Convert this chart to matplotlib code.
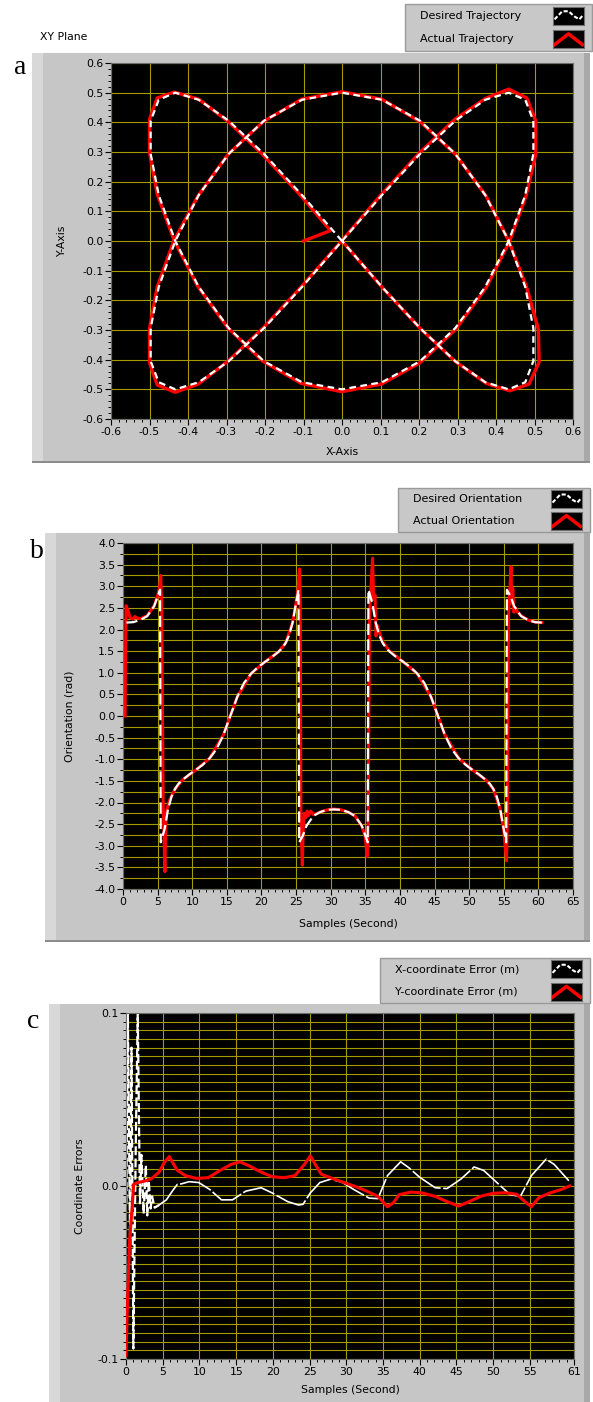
"""Three LabVIEW-style panels: XY trajectory, orientation and coordinate errors."""
import matplotlib.pyplot as plt
from matplotlib.patches import Rectangle
from matplotlib.ticker import FixedLocator, MultipleLocator, FormatStrFormatter

W, H = 593, 1402
PANEL = "#c6c6c6"
GRID = "#a39b00"
RED = "#ff0000"

# (a) XY plane, one sample per second
traj_des_x = [0.000, -0.104, -0.203, -0.294, -0.372, -0.433, -0.476, -0.497, -0.497, -0.476,
              -0.433, -0.372, -0.294, -0.203, -0.104, 0.000, 0.104, 0.203, 0.294, 0.372,
              0.433, 0.476, 0.497, 0.497, 0.476, 0.433, 0.372, 0.294, 0.203, 0.104,
              0.000, -0.104, -0.203, -0.294, -0.372, -0.433, -0.476, -0.497, -0.497, -0.476,
              -0.433, -0.372, -0.294, -0.203, -0.104, 0.000, 0.104, 0.203, 0.294, 0.372,
              0.433, 0.476, 0.497, 0.497, 0.476, 0.433, 0.372, 0.294, 0.203, 0.104, 0.000]
traj_des_y = [0.000, 0.155, 0.294, 0.405, 0.476, 0.500, 0.476, 0.405, 0.294, 0.155,
              0.000, -0.155, -0.294, -0.405, -0.476, -0.500, -0.476, -0.405, -0.294, -0.155,
              0.000, 0.155, 0.294, 0.405, 0.476, 0.500, 0.476, 0.405, 0.294, 0.155,
              0.000, -0.155, -0.294, -0.405, -0.476, -0.500, -0.476, -0.405, -0.294, -0.155,
              0.000, 0.155, 0.294, 0.405, 0.476, 0.500, 0.476, 0.405, 0.294, 0.155,
              0.000, -0.155, -0.294, -0.405, -0.476, -0.500, -0.476, -0.405, -0.294, -0.155, 0.000]
traj_act_x = [-0.100, -0.030,
              -0.105, -0.205, -0.295, -0.372, -0.436, -0.480, -0.500, -0.500, -0.480, -0.436,
              -0.375, -0.297, -0.206, -0.106, 0.000, 0.103, 0.203, 0.295, 0.374, 0.435,
              0.478, 0.503, 0.503, 0.480, 0.433, 0.372, 0.293, 0.202, 0.103, 0.000,
              -0.104, -0.204, -0.296, -0.373, -0.433, -0.480, -0.500, -0.500, -0.480, -0.437,
              -0.374, -0.296, -0.205, -0.105, 0.000, 0.103, 0.203, 0.295, 0.374, 0.434,
              0.480, 0.510, 0.512, 0.486, 0.436, 0.375, 0.296, 0.204, 0.104, 0.000]
traj_act_y = [0.000, 0.035,
              0.150, 0.290, 0.402, 0.478, 0.502, 0.482, 0.410, 0.298, 0.158, 0.002,
              -0.152, -0.292, -0.405, -0.480, -0.508, -0.482, -0.410, -0.298, -0.158, -0.002,
              0.152, 0.292, 0.405, 0.482, 0.512, 0.480, 0.410, 0.298, 0.158, 0.002,
              -0.152, -0.292, -0.405, -0.482, -0.510, -0.485, -0.410, -0.296, -0.155, 0.000,
              0.152, 0.292, 0.402, 0.478, 0.503, 0.478, 0.402, 0.292, 0.152, -0.002,
              -0.158, -0.298, -0.408, -0.482, -0.505, -0.480, -0.408, -0.296, -0.156, 0.000]

# (b) orientation (rad) vs time (s)
ori_des_t = [0.5, 1.5, 2.5, 3.5, 4.5, 5.0, 5.35, 5.45, 6.0, 6.5, 7.0, 7.5, 8.0, 8.5, 9.5,
             10.5, 11.5, 12.5, 13.5, 14.5, 15.5, 16.5, 17.5, 18.5, 19.5, 20.5, 21.5, 22.5,
             23.0, 23.5, 24.0, 24.5, 25.0, 25.35, 25.45, 26.0, 26.5, 27.5, 28.5, 29.5, 30.5,
             31.5, 32.5, 33.5, 34.5, 35.0, 35.35, 35.45, 36.0, 36.5, 37.0, 37.5, 38.0, 38.5,
             39.5, 40.5, 41.5, 42.5, 43.5, 44.5, 45.5, 46.5, 47.5, 48.5, 49.5, 50.5, 51.5,
             52.5, 53.0, 53.5, 54.0, 54.5, 55.0, 55.35, 55.45, 56.0, 56.5, 57.5, 58.5, 59.5, 60.5]
ori_des_v = [2.16, 2.17, 2.22, 2.31, 2.54, 2.76, 2.92, -2.92, -2.62, -2.16, -1.87, -1.69,
             -1.57, -1.49, -1.36, -1.25, -1.13, -0.98, -0.77, -0.44, 0.00, 0.44, 0.77, 0.98,
             1.13, 1.25, 1.36, 1.49, 1.57, 1.69, 1.87, 2.16, 2.62, 2.92, -2.92, -2.76, -2.54,
             -2.31, -2.22, -2.17, -2.16, -2.17, -2.22, -2.31, -2.54, -2.76, -2.92, 2.92, 2.62,
             2.16, 1.87, 1.69, 1.57, 1.49, 1.36, 1.25, 1.13, 0.98, 0.77, 0.44, 0.00, -0.44,
             -0.77, -0.98, -1.13, -1.25, -1.36, -1.49, -1.57, -1.69, -1.87, -2.16, -2.62,
             -2.92, 2.92, 2.76, 2.54, 2.31, 2.22, 2.17, 2.16]
ori_act_t = [0.3, 0.35, 0.45, 0.7, 1.0, 1.4, 1.7, 2.0, 2.5, 3.5, 4.5, 5.0, 5.3, 5.45, 5.6,
             5.8, 6.05, 6.15, 6.3, 6.6, 7.0, 7.5, 8.5, 10.5, 12.5, 14.5, 15.5, 16.5, 18.5,
             20.5, 22.5, 23.5, 24.5, 25.0, 25.3, 25.5, 25.6, 25.7, 25.9, 26.05, 26.2, 26.4,
             26.6, 26.8, 27.1, 27.5, 28.5, 29.5, 30.5, 31.5, 32.5, 33.5, 34.5, 35.0, 35.25,
             35.4, 35.6, 36.05, 36.2, 36.4, 36.55, 36.7, 37.0, 37.5, 38.5, 40.5, 42.5, 44.5,
             45.5, 46.5, 48.5, 50.5, 52.5, 53.5, 54.5, 55.0, 55.4, 55.5, 55.7, 56.05, 56.15,
             56.3, 56.45, 56.7, 57.0, 57.5, 58.5, 59.5, 60.5]
ori_act_v = [0.00, 1.20, 2.55, 2.45, 2.28, 2.24, 2.30, 2.27, 2.25, 2.32, 2.55, 2.78, 2.98,
             3.25, 2.40, -2.00, -3.60, -2.60, -2.20, -2.00, -1.85, -1.70, -1.49, -1.25, -0.98,
             -0.44, 0.00, 0.44, 0.98, 1.25, 1.49, 1.69, 2.16, 2.62, 2.95, 3.40, 2.60, -2.50,
             -3.45, -2.50, -2.25, -2.35, -2.20, -2.30, -2.20, -2.28, -2.22, -2.17, -2.15,
             -2.17, -2.22, -2.31, -2.54, -2.80, -3.25, -2.90, 2.30, 3.65, 2.70, 2.80, 1.85,
             2.10, 1.95, 1.72, 1.50, 1.25, 0.98, 0.44, 0.00, -0.44, -0.98, -1.25, -1.49,
             -1.69, -2.16, -2.65, -3.35, -2.55, 2.40, 3.45, 2.60, 2.95, 2.40, 2.50, 2.40,
             2.32, 2.22, 2.17, 2.16]

# (c) coordinate errors (m) vs time (s)
err_x_t = [0.05, 0.25, 0.55, 0.75, 1.0, 1.35, 1.6, 1.9, 2.1, 2.4, 2.7, 2.9, 3.1, 3.35, 3.55,
           3.9, 4.5, 5.5, 6.3, 7.0, 7.5, 8.6, 9.9, 11.4, 13.0, 14.5, 16.3, 18.4, 19.9, 22.0,
           23.5, 24.1, 25.1, 26.4, 27.9, 29.5, 31.0, 33.1, 34.3, 35.6, 37.4, 38.5, 40.0, 42.1,
           43.7, 45.6, 47.4, 48.7, 50.5, 52.3, 53.7, 55.2, 57.2, 58.3, 60.3]
err_x_v = [-0.010, 0.100, -0.030, 0.080, -0.094, 0.030, 0.100, -0.010, 0.018, -0.016, 0.012,
           -0.017, 0.003, -0.013, -0.006, -0.0125, -0.011, -0.008, -0.003, 0.001, 0.0012,
           0.0025, 0.002, -0.002, -0.008, -0.008, -0.003, -0.001, -0.004, -0.009, -0.011,
           -0.0106, -0.004, 0.002, 0.004, 0.002, -0.002, -0.007, -0.0073, 0.006, 0.014,
           0.0106, 0.005, -0.001, -0.0015, 0.004, 0.011, 0.009, 0.002, -0.005, -0.006, 0.006,
           0.0155, 0.0125, 0.003]
err_y_t = [0.0, 0.25, 0.5, 0.78, 1.05, 1.6, 2.67, 3.4, 4.5, 5.2, 5.9, 6.5, 7.0, 8.1, 9.6,
           11.2, 12.7, 14.3, 15.5, 16.8, 18.4, 19.9, 21.5, 23.0, 24.3, 25.1, 25.9, 26.6, 28.2,
           29.7, 31.3, 32.8, 34.3, 35.6, 36.4, 37.2, 38.8, 40.3, 42.1, 43.7, 45.3, 46.9, 48.4,
           50.0, 51.6, 53.2, 54.5, 55.2, 56.2, 57.8, 59.3, 60.4]
err_y_v = [-0.098, -0.060, -0.031, -0.0155, 0.001, 0.002, 0.003, 0.004, 0.008, 0.0135, 0.017,
           0.0125, 0.009, 0.006, 0.0044, 0.0048, 0.0087, 0.0125, 0.014, 0.0116, 0.008, 0.0054,
           0.0048, 0.006, 0.0125, 0.0174, 0.0116, 0.0068, 0.0042, 0.002, -0.0004, -0.003,
           -0.006, -0.012, -0.0097, -0.005, -0.0035, -0.004, -0.006, -0.009, -0.0116, -0.0087,
           -0.0058, -0.0042, -0.0039, -0.0048, -0.0097, -0.012, -0.0068, -0.0039, -0.002, 0.0]


def rect(x0, y0, x1, y1):
    """Pixel box (top-left origin) to figure fraction rectangle."""
    return [x0 / W, 1 - y1 / H, (x1 - x0) / W, (y1 - y0) / H]


def panel(fig, x0, y0, x1, y1):
    """Grey LabVIEW graph frame with a light left bevel and dark right bevel."""
    for (a, b, c, d), col in [((x0, y0, x1, y1), PANEL),
                              ((x0, y0, x0 + 11, y1), "#d8d8d8"),
                              ((x1 - 6, y0, x1, y1), "#a9a9a9"),
                              ((x0, y1 - 2, x1, y1), "#8c8c8c")]:
        r = rect(a, b, c, d)
        fig.add_artist(Rectangle((r[0], r[1]), r[2], r[3], transform=fig.transFigure,
                                 facecolor=col, edgecolor="none", zorder=0))


def legend(fig, x0, y0, x1, y1, labels, text_x):
    """Plot legend box with two rows and black swatches."""
    r = rect(x0, y0, x1, y1)
    fig.add_artist(Rectangle((r[0], r[1]), r[2], r[3], transform=fig.transFigure,
                             facecolor="#c8c8c8", edgecolor="#9a9a9a", lw=1.0, zorder=0))
    row = (y1 - y0) / 2
    for i, label in enumerate(labels):
        yc = y0 + row * (i + 0.5)
        fig.text(text_x / W, 1 - yc / H, label, ha="left", va="center", fontsize=8)
        sw = fig.add_axes(rect(x1 - 39, yc - 9, x1 - 8, yc + 9))
        sw.set_facecolor("black")
        sw.set_xticks([])
        sw.set_yticks([])
        for s in sw.spines.values():
            s.set_color("#707070")
        if i == 0:
            sw.plot([0.05, 0.3, 0.5, 0.7, 0.85, 0.95], [0.3, 0.75, 0.75, 0.45, 0.3, 0.5],
                    color="white", lw=1.5, ls=(0, (2, 1)))
        else:
            sw.plot([0.05, 0.5, 0.95], [0.2, 0.8, 0.2], color=RED, lw=2.5)
        sw.set_xlim(0, 1)
        sw.set_ylim(0, 1)


def style(ax):
    ax.set_facecolor("black")
    for s in ax.spines.values():
        s.set_color("#6e6e6e")
        s.set_linewidth(0.8)
    ax.tick_params(which="major", direction="out", length=4, width=0.8, labelsize=7.8, pad=1.5)
    ax.tick_params(which="minor", direction="out", length=2, width=0.7)
    ax.grid(which="major", color=GRID, lw=0.8)
    ax.set_axisbelow(True)


fig = plt.figure(figsize=(W / 100, H / 100), dpi=100)
fig.patch.set_facecolor("white")

# ---- panel a
panel(fig, 32, 53, 590, 463)
legend(fig, 405, 4, 592, 51, ["Desired Trajectory", "Actual Trajectory"], 420)
fig.text(40 / W, 1 - 37 / H, "XY Plane", fontsize=7.8, va="center")
fig.text(20 / W, 1 - 68 / H, "a", fontsize=20, family="Liberation Serif", ha="center", va="center")
ax = fig.add_axes(rect(111, 63, 573, 419))
style(ax)
ax.plot(traj_act_x, traj_act_y, color=RED, lw=2.4, zorder=2)
ax.plot(traj_des_x, traj_des_y, color="white", lw=1.6, ls=(0, (3, 2)), zorder=3)
ax.set_xlim(-0.6, 0.6)
ax.set_ylim(-0.6, 0.6)
ax.xaxis.set_major_locator(MultipleLocator(0.1))
ax.yaxis.set_major_locator(MultipleLocator(0.1))
ax.xaxis.set_minor_locator(MultipleLocator(0.02))
ax.yaxis.set_minor_locator(MultipleLocator(0.02))
ax.xaxis.set_major_formatter(FormatStrFormatter("%.1f"))
ax.yaxis.set_major_formatter(FormatStrFormatter("%.1f"))
fig.text(342 / W, 1 - 452 / H, "X-Axis", fontsize=7.8, ha="center", va="center")
fig.text(62 / W, 1 - 241 / H, "Y-Axis", fontsize=7.8, ha="center", va="center", rotation=90)

# ---- panel b
panel(fig, 45, 533, 590, 942)
legend(fig, 398, 488, 590, 532, ["Desired Orientation", "Actual Orientation"], 413)
fig.text(37 / W, 1 - 552 / H, "b", fontsize=20, family="Liberation Serif", ha="center", va="center")
ax = fig.add_axes(rect(123, 543, 573, 889))
style(ax)
ax.grid(which="minor", axis="y", color=GRID, lw=0.8)
ax.plot(ori_act_t, ori_act_v, color=RED, lw=2.2, zorder=2)
ax.plot(ori_des_t, ori_des_v, color="white", lw=1.6, ls=(0, (5, 2)), zorder=3)
ax.set_xlim(0, 65)
ax.set_ylim(-4, 4)
ax.xaxis.set_major_locator(MultipleLocator(5))
ax.xaxis.set_minor_locator(MultipleLocator(1))
ax.yaxis.set_major_locator(MultipleLocator(0.5))
ax.yaxis.set_minor_locator(MultipleLocator(0.25))
ax.yaxis.set_major_formatter(FormatStrFormatter("%.1f"))
fig.text(348 / W, 1 - 924 / H, "Samples (Second)", fontsize=7.8, ha="center", va="center")
fig.text(70 / W, 1 - 716 / H, "Orientation (rad)", fontsize=7.8, ha="center", va="center",
         rotation=90)

# ---- panel c
panel(fig, 49, 1004, 590, 1410)
legend(fig, 380, 958, 590, 1003, ["X-coordinate Error (m)", "Y-coordinate Error (m)"], 395)
fig.text(33 / W, 1 - 1021 / H, "c", fontsize=20, family="Liberation Serif", ha="center", va="center")
ax = fig.add_axes(rect(126, 1013, 574, 1359))
style(ax)
ax.grid(which="minor", axis="y", color=GRID, lw=0.8)
# start-up oscillation drawn dashed, the settled part nearly solid
ax.plot(err_x_t[:17], err_x_v[:17], color="white", lw=1.6, ls=(0, (4, 1.5)), zorder=2)
ax.plot(err_x_t[15:], err_x_v[15:], color="white", lw=1.2, ls=(0, (20, 1.5)), zorder=2)
ax.plot(err_y_t, err_y_v, color=RED, lw=2.2, zorder=3)
ax.set_xlim(0, 61)
ax.set_ylim(-0.1, 0.1)
ax.xaxis.set_major_locator(FixedLocator([0, 5, 10, 15, 20, 25, 30, 35, 40, 45, 50, 55, 61]))
ax.xaxis.set_minor_locator(MultipleLocator(1))
ax.yaxis.set_major_locator(MultipleLocator(0.1))
ax.yaxis.set_minor_locator(MultipleLocator(0.005))
ax.yaxis.set_major_formatter(FormatStrFormatter("%.1f"))
fig.text(350 / W, 1 - 1390 / H, "Samples (Second)", fontsize=7.8, ha="center", va="center")
fig.text(80 / W, 1 - 1186 / H, "Coordinate Errors", fontsize=7.8, ha="center", va="center",
         rotation=90)

fig.savefig("out.png", dpi=100)
